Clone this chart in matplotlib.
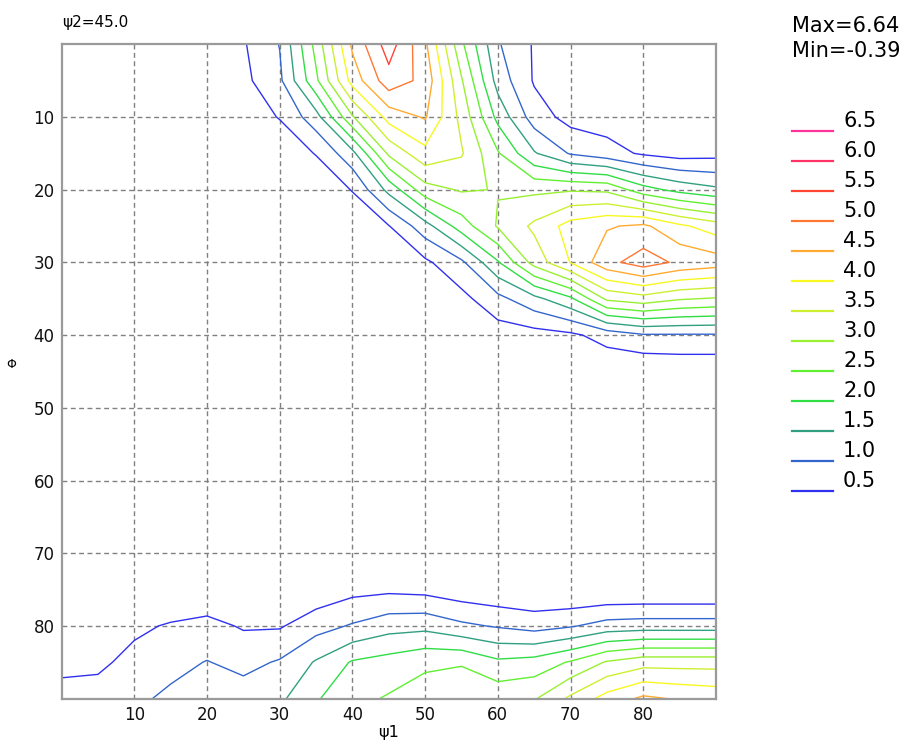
import numpy as np
import matplotlib
matplotlib.use('Agg')
import matplotlib.pyplot as plt

# grid of the ODF section (psi2 = 45), rows = Phi, columns = psi1
psi1 = np.arange(0, 91, 5)
phi = np.arange(0, 91, 5)
odf = np.array([
    [0.2, 0.2, 0.2, 0.25, 0.3, 0.45, 1.02, 2.67, 4.6, 5.75, 4.6, 2.6, 1.05, 0.45, 0.3, 0.2, 0.15, 0.1, 0.1],
    [0.2, 0.2, 0.2, 0.2, 0.25, 0.37, 0.9, 2.4, 4.2, 5.3, 4.85, 3.05, 1.3, 0.45, 0.3, 0.2, 0.15, 0.1, 0.1],
    [0.15, 0.15, 0.15, 0.2, 0.25, 0.3, 0.52, 1.3, 2.95, 4.2, 4.55, 3.35, 1.85, 0.75, 0.32, 0.25, 0.2, 0.2, 0.2],
    [0.1, 0.1, 0.1, 0.15, 0.2, 0.2, 0.25, 0.52, 1.35, 3.1, 3.85, 3.55, 2.55, 1.55, 0.95, 0.7, 0.43, 0.28, 0.33],
    [0.1, 0.1, 0.1, 0.1, 0.1, 0.15, 0.15, 0.2, 0.52, 1.65, 2.8, 3.05, 2.98, 2.9, 2.95, 2.9, 2.2, 1.83, 1.6],
    [0.05, 0.05, 0.05, 0.05, 0.05, 0.1, 0.1, 0.15, 0.2, 0.48, 1.3, 2.25, 3.05, 3.6, 4.2, 4.45, 4.6, 4.1, 3.75],
    [0.0, 0.0, 0.0, 0.0, 0.0, 0.05, 0.05, 0.1, 0.1, 0.2, 0.4, 0.9, 1.95, 3.2, 4.02, 4.85, 5.25, 4.9, 4.75],
    [0.0, 0.0, -0.05, -0.05, 0.0, 0.0, 0.0, 0.05, 0.05, 0.05, 0.1, 0.35, 0.85, 1.35, 1.9, 3.1, 3.3, 3.05, 2.95],
    [0.0, -0.05, -0.1, -0.1, -0.1, -0.05, 0.0, 0.0, 0.0, 0.05, 0.05, 0.1, 0.25, 0.3, 0.4, 0.7, 0.95, 0.95, 0.95],
    [0.0, -0.1, -0.15, -0.2, -0.2, -0.15, -0.1, -0.05, 0.0, 0.0, 0.05, 0.05, 0.1, 0.1, 0.1, 0.1, 0.05, 0.1, 0.1],
    [0.0, -0.1, -0.2, -0.25, -0.3, -0.25, -0.15, -0.1, -0.05, 0.0, 0.0, 0.0, 0.05, 0.05, 0.05, 0.05, 0.0, 0.05, 0.05],
    [0.0, -0.1, -0.2, -0.3, -0.35, -0.39, -0.25, -0.15, -0.1, -0.05, 0.0, 0.0, 0.0, 0.0, 0.0, 0.0, 0.0, 0.0, 0.0],
    [0.0, -0.05, -0.15, -0.25, -0.3, -0.3, -0.2, -0.15, -0.1, -0.05, 0.0, 0.0, 0.0, 0.0, -0.05, -0.05, 0.0, 0.0, 0.0],
    [0.0, 0.0, -0.1, -0.15, -0.2, -0.2, -0.15, -0.1, -0.05, 0.0, 0.0, 0.0, 0.0, -0.05, -0.1, -0.1, -0.05, -0.05, -0.05],
    [0.0, 0.0, 0.0, -0.05, -0.05, -0.1, -0.05, 0.0, 0.0, 0.05, 0.05, 0.0, 0.0, -0.05, -0.1, -0.1, -0.1, -0.1, -0.1],
    [0.0, 0.0, 0.05, 0.05, 0.1, 0.05, 0.1, 0.15, 0.35, 0.4, 0.35, 0.2, 0.1, 0.05, 0.0, 0.0, 0.0, 0.0, 0.0],
    [0.1, 0.2, 0.4, 0.55, 0.65, 0.45, 0.45, 0.8, 1.05, 1.3, 1.35, 1.1, 0.95, 0.8, 0.95, 1.2, 1.25, 1.25, 1.25],
    [0.35, 0.4, 0.65, 0.85, 1.02, 0.85, 1.05, 1.55, 2.05, 2.2, 2.4, 2.45, 2.1, 2.2, 2.55, 3.05, 3.3, 3.3, 3.3],
    [0.7, 0.7, 0.9, 1.1, 1.2, 1.25, 1.4, 1.95, 2.35, 2.55, 2.75, 2.9, 2.85, 2.95, 3.6, 4.2, 4.6, 4.45, 4.35],
])

levels = [0.5, 1.0, 1.5, 2.0, 2.5, 3.0, 3.5, 4.0, 4.5, 5.0, 5.5, 6.0, 6.5]
level_colors = ['#3030ee', '#3366cc', '#30a080', '#30dd44', '#60f030', '#99f030',
                '#ccf030', '#f8f820', '#ffaa30', '#ff7733', '#ff4433', '#ff3366', '#ff3399']
ticks = [10, 20, 30, 40, 50, 60, 70, 80]
max_val, min_val = 6.64, -0.39

W, H = 922, 742
fig = plt.figure(figsize=(W / 100, H / 100), dpi=100)

ax = fig.add_axes([61.6 / W, 1 - 698.6 / H, 654.4 / W, 654.3 / H])
ax.contour(psi1, phi, odf, levels=levels, colors=level_colors, linewidths=1.0)
ax.set_xlim(0, 90)
ax.set_ylim(90, 0)
ax.set_xticks(ticks)
ax.set_yticks(ticks)
ax.tick_params(length=0, labelsize=12, colors='#111111')
ax.tick_params(axis='y', pad=5)
ax.tick_params(axis='x', pad=5)
ax.grid(True, color='#808080', linestyle=(0, (3.5, 2.5)), linewidth=1.0)
ax.set_axisbelow(True)
for s in ax.spines.values():
    s.set_color('#9a9a9a')
    s.set_linewidth(1.6)
ax.set_xlabel('ψ1', fontsize=11.5, labelpad=1)
ax.set_ylabel('Φ', fontsize=9, rotation=0)
ax.yaxis.set_label_coords(-50 / 654, 0.5)

fig.text(62 / W, 1 - 22 / H, 'ψ2=45.0', fontsize=11, va='center', ha='left')
fig.text(792 / W, 1 - 26 / H, 'Max=%.2f' % max_val, fontsize=15, va='center', ha='left')
fig.text(792 / W, 1 - 51 / H, 'Min=%.2f' % min_val, fontsize=15, va='center', ha='left')

# contour legend on the right
lg = fig.add_axes([780 / W, 1 - 500 / H, 142 / W, 390 / H])
lg.set_xlim(780, 922)
lg.set_ylim(0.35, 6.85)
lg.axis('off')
for lev, c in zip(levels, level_colors):
    lg.plot([792, 833], [lev, lev], color=c, linewidth=1.6)
    lg.text(843, lev + 0.17, '%.1f' % lev, fontsize=15, va='center', ha='left')

fig.savefig('out.png', dpi=100)
